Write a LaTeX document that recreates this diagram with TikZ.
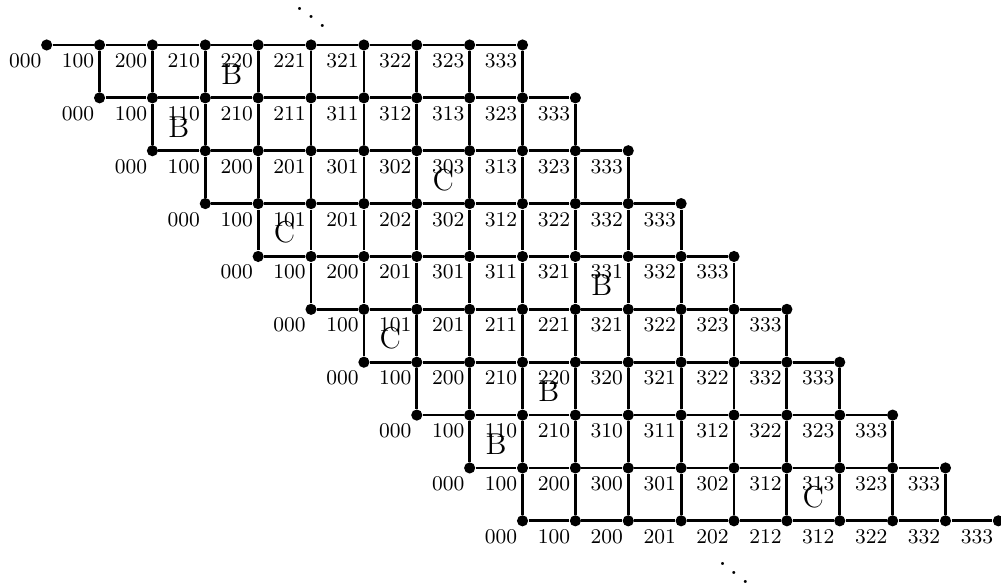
\documentclass[tikz,border=0pt]{standalone}
\usepackage{amsmath, amssymb}
\usetikzlibrary{positioning}
\tikzset{
  gdot/.style={circle, fill=black, inner sep=0pt, minimum size=4.8pt},
  gedge/.style={very thick},
  wlabel/.style={anchor=north east, font=\small, inner xsep=2.1pt, inner ysep=3.5pt},
  cellmark/.style={font=\fontsize{13}{15}\selectfont},
  dotsmark/.style={scale=1.25}
}

\begin{document}
\begin{tikzpicture}[x=0.8cm, y=0.8cm]
  \useasboundingbox (-0.883,-10.233) rectangle (18.05,0.851);
  % vertices and their words
  \foreach [count=\r from 0] \row in {
      {000,100,200,210,220,221,321,322,323,333},
      {000,100,110,210,211,311,312,313,323,333},
      {000,100,200,201,301,302,303,313,323,333},
      {000,100,101,201,202,302,312,322,332,333},
      {000,100,200,201,301,311,321,331,332,333},
      {000,100,101,201,211,221,321,322,323,333},
      {000,100,200,210,220,320,321,322,332,333},
      {000,100,110,210,310,311,312,322,323,333},
      {000,100,200,300,301,302,312,313,323,333},
      {000,100,200,201,202,212,312,322,332,333}} {
    \foreach [count=\k from 0] \w in \row {
      \pgfmathtruncatemacro\xx{\r+\k}
      \node[gdot] (v\r-\k) at (\xx,-\r) {};
      \node[wlabel] (w\r-\k) at (v\r-\k.center) {\w};
    }
  }
  % rows
  \foreach \r in {0,...,9}
    \foreach \k in {0,...,8} {
      \pgfmathtruncatemacro\kn{\k+1}
      \draw[gedge] (v\r-\k) -- (v\r-\kn);
    }
  % rungs between consecutive rows
  \foreach \r in {0,...,8}
    \foreach \k in {0,...,8} {
      \pgfmathtruncatemacro\kn{\k+1}
      \pgfmathtruncatemacro\rn{\r+1}
      \draw[gedge] (v\r-\kn) -- (v\rn-\k);
    }
  % marked cells
  \foreach \r/\k/\c in {0/3/B, 1/1/B, 2/5/C, 3/1/C, 4/6/B, 5/1/C, 6/3/B, 7/1/B, 8/6/C} {
    \pgfmathsetmacro\cx{\r+\k+0.5}
    \pgfmathsetmacro\cy{-\r-0.55}
    \node[cellmark] (m\r) at (\cx,\cy) {\c};
  }
  \node[dotsmark] (dtop) at (5,0.69) {$\ddots$};
  \node[dotsmark] (dbot) at (13,-9.82) {$\ddots$};
\end{tikzpicture}
\end{document}
